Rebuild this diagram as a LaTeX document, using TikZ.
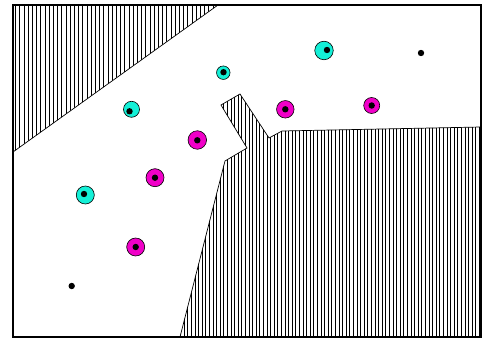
\documentclass[tikz,border=0pt]{standalone}
\definecolor{cy}{RGB}{20,240,215}
\definecolor{mg}{RGB}{240,0,200}
\tikzset{
  cpt/.style={circle,draw=black,line width=0.6pt,fill=cy,inner sep=0pt},
  mpt/.style={circle,draw=black,line width=0.6pt,fill=mg,inner sep=0pt},
  dotpt/.style={circle,fill=black,inner sep=0pt,minimum size=6.4pt},
  hatch/.style={line width=0.6pt},
  edge/.style={line width=0.7pt}
}
\begin{document}
\begin{tikzpicture}[x=1pt,y=-1pt]
\useasboundingbox (0,0) rectangle (484,339);
\fill[white] (0,0) rectangle (484,339);
% upper-left hatched region
\coordinate (ul1) at (13,5);
\coordinate (ul2) at (218,5);
\coordinate (ul3) at (13,152);
\begin{scope}
\clip (ul1) -- (ul2) -- (ul3) -- cycle;
\foreach \x in {15.5,19.7,...,218} \draw[hatch] (\x,0) -- (\x,160);
\end{scope}
\draw[edge] (ul2) -- (ul3);
% lower-right hatched region
\coordinate (a) at (221,105);
\coordinate (b) at (240,94);
\coordinate (c) at (269,138);
\coordinate (d) at (282,131);
\coordinate (g) at (481,127);
\coordinate (br) at (481,337);
\coordinate (h) at (180,337);
\coordinate (f) at (225,161);
\coordinate (e) at (247,148);
\begin{scope}
\clip (a) -- (b) -- (c) -- (d) -- (g) -- (br) -- (h) -- (f) -- (e) -- cycle;
\foreach \x in {180.5,184.1,...,482} \draw[hatch] (\x,90) -- (\x,340);
\end{scope}
\draw[edge] (g) -- (d) -- (c) -- (b) -- (a) -- (e) -- (f) -- (h);
% frame
\draw[line width=1.2pt] (13,5) rectangle (481,337);
% points
\node[cpt,minimum size=18.5pt] (c1) at (324,50.5) {};
\node[dotpt] (c1d) at (327,50) {};
\node[cpt,minimum size=13.5pt] (c2) at (223.3,72.7) {};
\node[dotpt] (c2d) at (223.5,72.2) {};
\node[cpt,minimum size=16pt] (c3) at (131.5,109.3) {};
\node[dotpt] (c3d) at (129.5,111.3) {};
\node[cpt,minimum size=18pt] (c4) at (85.3,195) {};
\node[dotpt] (c4d) at (84,194) {};
\node[mpt,minimum size=17.5pt] (m1) at (285.3,109.3) {};
\node[dotpt] (m1d) at (285.3,109.3) {};
\node[mpt,minimum size=16pt] (m2) at (371.7,105.5) {};
\node[dotpt] (m2d) at (371.7,105.5) {};
\node[mpt,minimum size=18.5pt] (m3) at (197.3,140) {};
\node[dotpt] (m3d) at (197.3,140.3) {};
\node[mpt,minimum size=18pt] (m4) at (155,177.7) {};
\node[dotpt] (m4d) at (155,177.7) {};
\node[mpt,minimum size=18pt] (m5) at (135.7,247) {};
\node[dotpt] (m5d) at (135.7,247) {};
\node[dotpt] (k1) at (421,53) {};
\node[dotpt] (k2) at (71.7,286) {};
\end{tikzpicture}
\end{document}
